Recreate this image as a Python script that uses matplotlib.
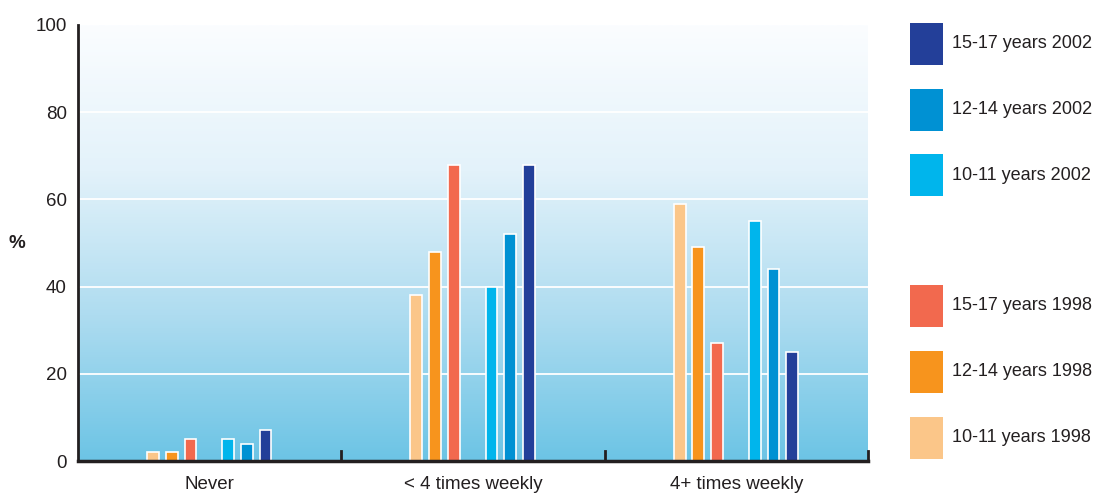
import numpy as np
import matplotlib
matplotlib.use("Agg")
import matplotlib.pyplot as plt
from matplotlib.colors import LinearSegmentedColormap
from matplotlib.patches import Rectangle
from matplotlib import font_manager

# categories and values (%)
categories = ["Never", "< 4 times weekly", "4+ times weekly"]
series_1998 = ["10-11 years 1998", "12-14 years 1998", "15-17 years 1998"]
series_2002 = ["10-11 years 2002", "12-14 years 2002", "15-17 years 2002"]
values_1998 = [
    [2, 38, 59],   # 10-11
    [2, 48, 49],   # 12-14
    [5, 68, 27],   # 15-17
]
values_2002 = [
    [5, 40, 55],
    [4, 52, 44],
    [7, 68, 25],
]
colors_1998 = ["#fbc689", "#f7941d", "#f2694e"]
colors_2002 = ["#00b5ec", "#0091d3", "#233f99"]

names = {f.name for f in font_manager.fontManager.ttflist}
family = ["Liberation Sans Narrow", "DejaVu Sans"] if "Liberation Sans Narrow" in names else ["Liberation Sans", "DejaVu Sans"]
plt.rcParams["font.family"] = family
text_color = "#231f20"

fig = plt.figure(figsize=(11.04, 4.95), dpi=100)
W, H = 1104, 495
ax = fig.add_axes([78 / W, 1 - 461 / H, 790 / W, 436 / H])

# background gradient
bg = LinearSegmentedColormap.from_list("bg", ["#6cc4e5", "#aedcf0", "#e3f2fa", "#fbfdff"])
grad = np.linspace(0, 1, 256).reshape(-1, 1)
ax.imshow(grad, cmap=bg, aspect="auto", extent=[-0.5, 2.5, 0, 100],
          origin="lower", zorder=0)

for yv in [20, 40, 60, 80]:
    ax.axhline(yv, color="white", lw=1.3, zorder=1)

x = np.arange(len(categories))
width = 0.045
offsets_1998 = [-0.215, -0.144, -0.073]
offsets_2002 = [0.070, 0.141, 0.212]
for vals, col, off, lab in zip(values_1998, colors_1998, offsets_1998, series_1998):
    ax.bar(x + off, vals, width, color=col, edgecolor="white", linewidth=1.2, zorder=2, label=lab)
for vals, col, off, lab in zip(values_2002, colors_2002, offsets_2002, series_2002):
    ax.bar(x + off, vals, width, color=col, edgecolor="white", linewidth=1.2, zorder=2, label=lab)

ax.set_xlim(-0.5, 2.5)
ax.set_ylim(0, 100)
ax.set_yticks([0, 20, 40, 60, 80, 100])
ax.tick_params(axis="y", length=0, pad=8, labelsize=13.5, colors=text_color)
ax.set_xticks(x)
ax.set_xticklabels(categories)
ax.tick_params(axis="x", length=0, pad=11, labelsize=13.5, colors=text_color)
for s in ["top", "right"]:
    ax.spines[s].set_visible(False)
ax.spines["left"].set_linewidth(2)
ax.spines["left"].set_color("#231f20")
ax.spines["bottom"].set_linewidth(2.5)
ax.spines["bottom"].set_color("#231f20")
ax.spines["bottom"].set_zorder(5)

# small upward ticks between groups
for xv in [0.5, 1.5, 2.5]:
    ax.plot([xv, xv], [0, 2.4], color="#231f20", lw=2, clip_on=False, zorder=5)

fig.text(17 / W, 1 - 243 / H, "%", fontsize=13.5, fontweight="bold",
         color=text_color, ha="center", va="center")

# legend drawn as swatches at the right
legend_items = list(zip(series_2002[::-1], colors_2002[::-1])) + list(zip(series_1998[::-1], colors_1998[::-1]))
legend_y = [44, 110, 175, 306, 372, 438]
for (lab, col), yc in zip(legend_items, legend_y):
    fig.add_artist(Rectangle((910 / W, 1 - (yc + 21) / H), 33 / W, 42 / H,
                             transform=fig.transFigure, facecolor=col, edgecolor="none"))
    fig.text(952 / W, 1 - yc / H, lab, fontsize=13, color=text_color, ha="left", va="center")

fig.savefig("out.png", dpi=100)
